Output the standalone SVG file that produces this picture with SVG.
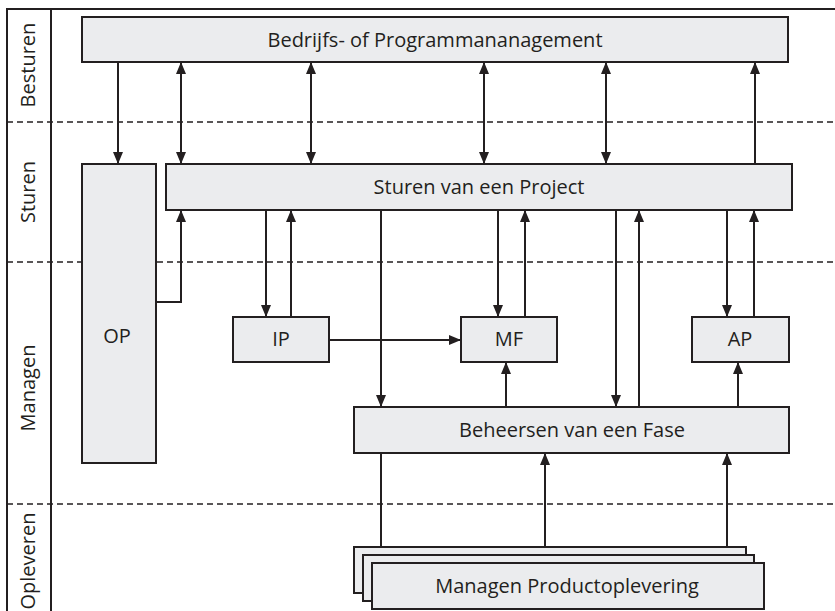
<svg xmlns="http://www.w3.org/2000/svg" width="835" height="611" viewBox="0 0 835 611">
<style>
.box{fill:#ebecee;stroke:#231f20;stroke-width:2}
.t{font-family:"Open Sans","Noto Sans",sans-serif;font-size:20px;fill:#231f20;text-anchor:middle}
.lane{font-family:"Open Sans","Noto Sans",sans-serif;font-size:20px;fill:#231f20;text-anchor:middle}
.c{fill:none;stroke:#231f20;stroke-width:2}
.a{marker-end:url(#ah)}
.d{marker-start:url(#ah);marker-end:url(#ah)}
.dash{stroke:#231f20;stroke-width:1.5;stroke-dasharray:6 4;fill:none}
.frame{stroke:#231f20;stroke-width:2;fill:none}
</style>
<defs>
<marker id="ah" viewBox="0 0 12 10" refX="12" refY="5" markerWidth="12" markerHeight="10" markerUnits="userSpaceOnUse" orient="auto-start-reverse">
<path d="M0,0 L12,5 L0,10 z" fill="#231f20"/>
</marker>
</defs>
<rect width="835" height="611" fill="#fff"/>
<g id="frame">
<path class="frame" d="M7,611 V9 H835"/>
<path class="frame" d="M51,9 V611"/>
<path class="dash" d="M7,122 H835 M7,262 H835 M7,504 H835"/>
<text class="lane" transform="translate(35,65) rotate(-90)">Besturen</text>
<text class="lane" transform="translate(35,192) rotate(-90)">Sturen</text>
<text class="lane" transform="translate(35,388) rotate(-90)">Managen</text>
<text class="lane" transform="translate(35,561) rotate(-90)">Opleveren</text>
</g>
<g id="connectors">
<path class="c a" d="M118,62 V164"/>
<path class="c d" d="M181,62 V164"/>
<path class="c d" d="M311,62 V164"/>
<path class="c d" d="M484,62 V164"/>
<path class="c d" d="M606,62 V164"/>
<path class="c a" d="M755,164 V62"/>
<path class="c a" d="M156,302 H181 V210"/>
<path class="c a" d="M266,210 V317"/>
<path class="c a" d="M291,317 V210"/>
<path class="c a" d="M381,210 V407"/>
<path class="c a" d="M329,340 H461"/>
<path class="c a" d="M498,210 V317"/>
<path class="c a" d="M525,317 V210"/>
<path class="c a" d="M616,210 V407"/>
<path class="c a" d="M639,407 V210"/>
<path class="c a" d="M727,210 V317"/>
<path class="c a" d="M754,317 V210"/>
<path class="c a" d="M506,407 V362"/>
<path class="c a" d="M738,407 V362"/>
<path class="c" d="M381,453 V547"/>
<path class="c a" d="M545,547 V453"/>
<path class="c a" d="M727,547 V453"/>
</g>
<g id="bedrijfs">
<rect class="box" x="82" y="17" width="706" height="45"/>
<text class="t" x="435" y="47">Bedrijfs- of Programmananagement</text>
</g>
<g id="sturen">
<rect class="box" x="166" y="164" width="626" height="46"/>
<text class="t" x="479" y="194">Sturen van een Project</text>
</g>
<g id="op">
<rect class="box" x="82" y="164" width="74" height="299"/>
<text class="t" x="117" y="343">OP</text>
</g>
<g id="ip">
<rect class="box" x="233" y="317" width="96" height="45"/>
<text class="t" x="281" y="346">IP</text>
</g>
<g id="mf">
<rect class="box" x="461" y="317" width="96" height="45"/>
<text class="t" x="509" y="346">MF</text>
</g>
<g id="ap">
<rect class="box" x="692" y="317" width="97" height="45"/>
<text class="t" x="740" y="346">AP</text>
</g>
<g id="beheersen">
<rect class="box" x="354" y="407" width="435" height="46"/>
<text class="t" x="572" y="437">Beheersen van een Fase</text>
</g>
<g id="managen-productoplevering">
<rect class="box" x="354" y="547" width="392" height="46"/>
<rect class="box" x="363" y="555" width="391" height="46"/>
<rect class="box" x="372" y="563" width="392" height="46"/>
<text class="t" x="567" y="593">Managen Productoplevering</text>
</g>
</svg>
